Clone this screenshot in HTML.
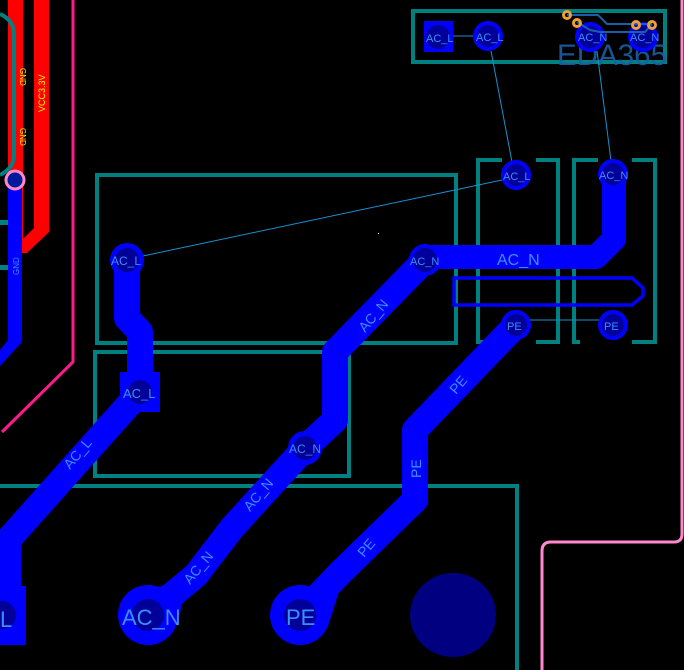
<!DOCTYPE html>
<html><head><meta charset="utf-8"><style>
html,body{margin:0;padding:0;background:#000;}
svg{display:block;}
text{font-family:"Liberation Sans",sans-serif;}
</style></head><body>
<svg width="684" height="670" viewBox="0 0 684 670" xmlns="http://www.w3.org/2000/svg">
<rect width="684" height="670" fill="#000"/>
<!-- left red area -->
<rect x="8" y="0" width="15" height="250" fill="#f00"/>
<polygon points="34,0 49,0 49,232 27,253 8,253 8,240 22,240 34,228" fill="#f00"/>
<path d="M0,14 Q14,20 14,35 L14,155 Q14,168 0,175" stroke="#008080" stroke-width="4" fill="none"/>
<text x="0" y="0" transform="translate(45,112) rotate(-90)" fill="#ff0" font-size="9">VCC3.3V</text>
<text x="0" y="0" transform="translate(20,68) rotate(90)" fill="#ff0" font-size="8">GND</text>
<text x="0" y="0" transform="translate(20,128) rotate(90)" fill="#ff0" font-size="8">GND</text>
<!-- GND blue trace -->
<polygon points="8,185 22,185 22,342 0,366 0,350 8,340" fill="#00f"/>
<text x="0" y="0" transform="translate(19,275) rotate(-90)" fill="#3a8fff" font-size="8">GND</text>
<rect x="0" y="220" width="8" height="5" fill="#008080"/>
<rect x="0" y="265" width="8" height="5" fill="#008080"/>
<circle cx="15" cy="180" r="9" fill="#001a99" stroke="#ff88cc" stroke-width="3"/>
<!-- magenta line -->
<polyline points="73,0 73,362 2,432" stroke="#ff1a8c" stroke-width="3" fill="none"/>
<!-- pink right line -->
<path d="M542,670 L542,551 Q542,542 551,542 L674,542 Q682,542 682,534 L682,0" stroke="#ff88cc" stroke-width="3" fill="none"/>
<!-- teal outlines -->
<g stroke="#008080" stroke-width="4" fill="none">
<rect x="413" y="11" width="252" height="51"/>
<rect x="97" y="175" width="359" height="168"/>
<rect x="95" y="352" width="254" height="124"/>
<polyline points="0,486 517,486 517,670"/>
<polyline points="502,160 478,160 478,342 484,342"/>
<polyline points="536,160 558,160 558,342 536,342"/>
<polyline points="598,160 574,160 574,342 580,342"/>
<polyline points="632,160 655,160 655,342 632,342"/>
</g>
<!-- EDA365 -->
<text x="557" y="65" fill="#1a5fa8" font-size="30" textLength="110" lengthAdjust="spacingAndGlyphs" opacity="0.9">EDA365</text>
<!-- top box pads -->
<rect x="424" y="21" width="29" height="31" fill="#00f"/>
<circle cx="438" cy="37" r="12" fill="#000099"/>
<line x1="453" y1="36" x2="475" y2="36" stroke="#1a8fd0" stroke-width="1"/>
<circle cx="488" cy="36" r="15" fill="#00f"/><circle cx="488" cy="36" r="11" fill="#000099"/>
<circle cx="590" cy="37" r="15" fill="#00f"/><circle cx="590" cy="37" r="11" fill="#000099"/>
<circle cx="643" cy="37" r="15" fill="#00f"/><circle cx="643" cy="37" r="11" fill="#000099"/>
<polyline points="567,15 598,15 607,24 652,24" stroke="#1a5fa8" stroke-width="2" fill="none"/>
<polyline points="577,22 590,30 600,32 645,32 652,24" stroke="#1a5fa8" stroke-width="2" fill="none"/>
<g fill="none" stroke="#f0a030" stroke-width="3">
<circle cx="567" cy="15" r="3.5"/><circle cx="577" cy="23" r="3.5"/><circle cx="636" cy="25" r="3.5"/><circle cx="652" cy="25" r="3.5"/>
</g>
<g fill="#3a8fff" font-size="11">
<text x="426" y="42">AC_L</text><text x="476" y="41">AC_L</text>
<text x="578" y="41">AC_N</text><text x="630" y="41">AC_N</text>
</g>
<!-- ratlines -->
<g stroke="#1a8fd0" stroke-width="1">
<line x1="491" y1="51" x2="512" y2="162"/>
<line x1="597" y1="51" x2="611" y2="161"/>
<line x1="143" y1="256" x2="502" y2="180"/>
<line x1="530" y1="320" x2="600" y2="320"/>
</g>
<!-- traces -->
<g stroke="#00f" fill="none" stroke-linejoin="round">
<polyline points="127,260 127,318 140,332 140,392" stroke-width="26"/>
<polyline points="140,392 8,540 8,600" stroke-width="26"/>
<polyline points="425,260 335,352 335,420 305,448 232,528 196,575 148,615" stroke-width="26"/>
<polyline points="425,257 596,257 614,239 614,174" stroke-width="24"/>
<polyline points="516,325 415,430 415,500 340,573 300,615" stroke-width="26"/>
</g>
<polygon points="130,598 190,575 178,620" fill="#00f"/>
<polygon points="282,598 345,572 330,620" fill="#00f"/>
<rect x="120" y="372" width="40" height="40" fill="#00f"/>
<rect x="0" y="586" width="26" height="59" fill="#00f"/>
<!-- slot -->
<polygon points="454,278 632,278 643,288 643,296 632,305 454,305" fill="none" stroke="#00f" stroke-width="3.5"/>
<!-- pads -->
<g>
<circle cx="516" cy="175" r="15" fill="#00f"/><circle cx="516" cy="175" r="11" fill="#000099"/>
<circle cx="613" cy="174" r="15" fill="#00f"/><circle cx="613" cy="174" r="11" fill="#000099"/>
<circle cx="127" cy="260" r="17" fill="#00f"/><circle cx="127" cy="260" r="12" fill="#000099"/>
<circle cx="425" cy="260" r="16" fill="#00f"/><circle cx="425" cy="260" r="12" fill="#000099"/>
<circle cx="516" cy="325" r="15" fill="#00f"/><circle cx="516" cy="325" r="11" fill="#000099"/>
<circle cx="613" cy="325" r="15" fill="#00f"/><circle cx="613" cy="325" r="11" fill="#000099"/>
<circle cx="140" cy="392" r="12" fill="#000099"/>
<circle cx="305" cy="448" r="17" fill="#00f"/><circle cx="305" cy="448" r="12" fill="#000099"/>
<circle cx="148" cy="615" r="30" fill="#00f"/><circle cx="148" cy="615" r="16" fill="#000099"/>
<circle cx="300" cy="615" r="30" fill="#00f"/><circle cx="300" cy="615" r="16" fill="#000099"/>
<circle cx="2" cy="615" r="14" fill="#000099"/>
<ellipse cx="453" cy="615" rx="43" ry="42" fill="#000080"/>
</g>
<!-- pad labels -->
<g fill="#3a8fff">
<text x="503" y="180" font-size="11">AC_L</text>
<text x="599" y="179" font-size="11">AC_N</text>
<text x="111" y="265" font-size="12">AC_L</text>
<text x="410" y="265" font-size="11">AC_N</text>
<text x="507" y="330" font-size="11">PE</text>
<text x="604" y="330" font-size="11">PE</text>
<text x="123" y="398" font-size="13">AC_L</text>
<text x="289" y="453" font-size="12">AC_N</text>
<text x="122" y="625" font-size="22">AC_N</text>
<text x="286" y="625" font-size="22">PE</text>
<text x="0" y="627" font-size="22">L</text>
<text x="497" y="265" font-size="16">AC_N</text>
</g>
<g fill="#3a8fff" font-size="14">
<text transform="translate(70,470) rotate(-50)">AC_L</text>
<text transform="translate(365,333) rotate(-50)">AC_N</text>
<text transform="translate(250,512) rotate(-50)">AC_N</text>
<text transform="translate(190,585) rotate(-50)">AC_N</text>
<text transform="translate(456,395) rotate(-50)">PE</text>
<text transform="translate(421,478) rotate(-90)">PE</text>
<text transform="translate(364,558) rotate(-50)">PE</text>
</g>
<rect x="378" y="233" width="1" height="1" fill="#fff"/>
</svg>
</body></html>
